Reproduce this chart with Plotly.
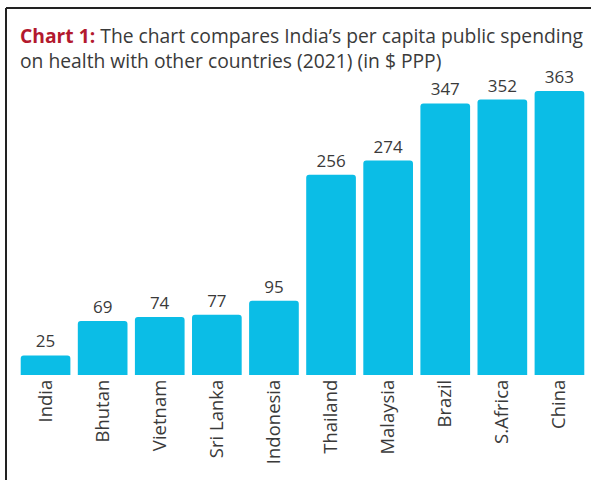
import plotly.graph_objects as go

countries = ["India", "Bhutan", "Vietnam", "Sri Lanka", "Indonesia",
             "Thailand", "Malaysia", "Brazil", "S.Africa", "China"]
spending = [25, 69, 74, 77, 95, 256, 274, 347, 352, 363]

fig = go.Figure(go.Bar(
    x=countries, y=spending,
    marker=dict(color="#0BBDE6", cornerradius=3, line=dict(width=0)),
    text=[str(v) for v in spending], textposition="outside",
    textfont=dict(size=17, color="#3a3a3a", family="Open Sans"),
    cliponaxis=False, width=0.87,
))

PW, PH, T = 571, 295, 80

fig.update_layout(
    width=599, height=480,
    margin=dict(l=17, r=11, t=T, b=105),
    paper_bgcolor="white", plot_bgcolor="white",
    showlegend=False,
    font=dict(family="Open Sans", color="#3a3a3a"),
    xaxis=dict(tickangle=-90, tickfont=dict(size=18.5, color="#3a3a3a"),
               showline=False, ticks="", showgrid=False, ticklen=0),
    yaxis=dict(visible=False, range=[0, 377]),
    annotations=[dict(
        text="<span style='color:#B3192E'><b>Chart 1:</b></span> The chart compares India’s per capita public spending<br>on health with other countries (2021) (in $ PPP)",
        xref="paper", yref="paper", x=(18-17)/PW, y=1+(T-20)/PH,
        xanchor="left", yanchor="top", align="left", showarrow=False,
        font=dict(size=19.3, color="#3a3a3a", family="Open Sans"),
    )],
    shapes=[
        dict(type="line", xref="paper", yref="paper", x0=-11/PW, x1=574/PW,
             y0=1+72/PH, y1=1+72/PH, line=dict(color="#222222", width=2)),
        dict(type="line", xref="paper", yref="paper", x0=-11/PW, x1=-11/PW,
             y0=1+72/PH, y1=-110/PH, line=dict(color="#222222", width=2)),
    ],
)

fig.write_html("out.html")
